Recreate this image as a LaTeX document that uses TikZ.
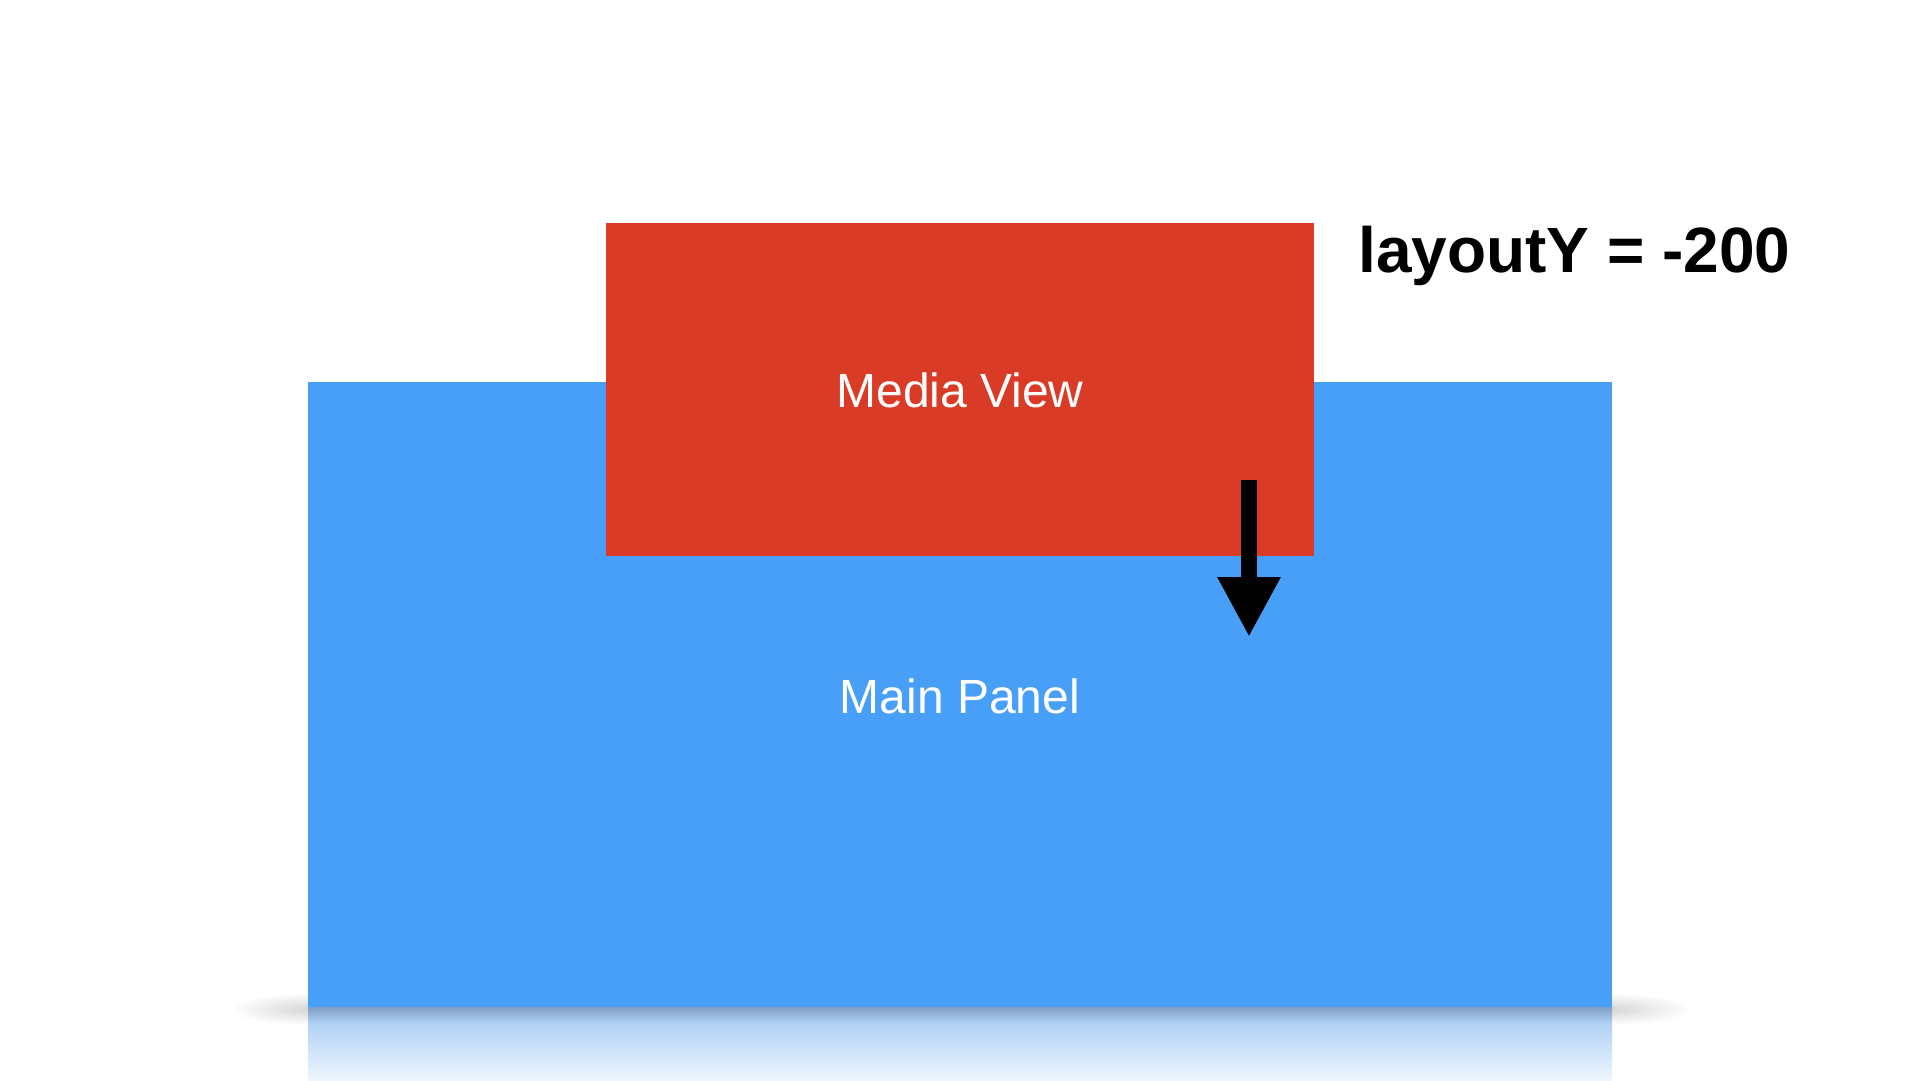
\documentclass[tikz,border=0pt]{standalone}
\usepackage{fontspec}
\setmainfont{Liberation Sans}
\usetikzlibrary{arrows.meta}
\definecolor{panelblue}{RGB}{72,159,247}
\definecolor{mediared}{RGB}{218,59,38}
\definecolor{reflA}{RGB}{125,155,196}
\definecolor{reflB}{RGB}{178,211,246}
\definecolor{reflC}{RGB}{238,245,253}
\tikzset{
  box/.style={draw=none, inner sep=0pt, outer sep=0pt, anchor=north west},
  lbl/.style={text=white, inner sep=0pt, anchor=base, font=\fontsize{48}{52}\selectfont},
  note/.style={text=black, inner sep=0pt, anchor=base west, font=\bfseries\fontsize{64}{70}\selectfont},
  movearrow/.style={line width=16pt, -{Triangle[width=59pt,length=60pt]}},
  cornershadow/.style={inner color=black!16, outer color=white}
}
\begin{document}
\begin{tikzpicture}[x=1pt,y=-1pt]
\useasboundingbox[fill=white] (0,0) rectangle (1920,1080);
% soft shadows at the bottom corners
\shade[cornershadow] (308,1009) ellipse [x radius=78, y radius=16];
\shade[cornershadow] (1612,1009) ellipse [x radius=78, y radius=16];
% reflection
\shade[top color=reflA, bottom color=reflB] (308,1006) rectangle (1612,1024);
\shade[top color=reflB, bottom color=reflC] (308,1024) rectangle (1612,1080);
% main panel
\node[box, fill=panelblue, minimum width=1304pt, minimum height=625pt] (panel) at (308,382) {};
% media view
\node[box, fill=mediared, minimum width=708pt, minimum height=333pt] (media) at (606,223) {};
\node[lbl] (medialbl) at (960,407) {Media View};
\node[lbl] (panellbl) at (960,713) {Main Panel};
\node[note] (layout) at (1358,272) {layoutY = -200};
% arrow
\coordinate (arrowstart) at (1249,480);
\coordinate (arrowend) at (1249,637);
\draw[movearrow] (arrowstart) -- (arrowend);
\end{tikzpicture}
\end{document}
